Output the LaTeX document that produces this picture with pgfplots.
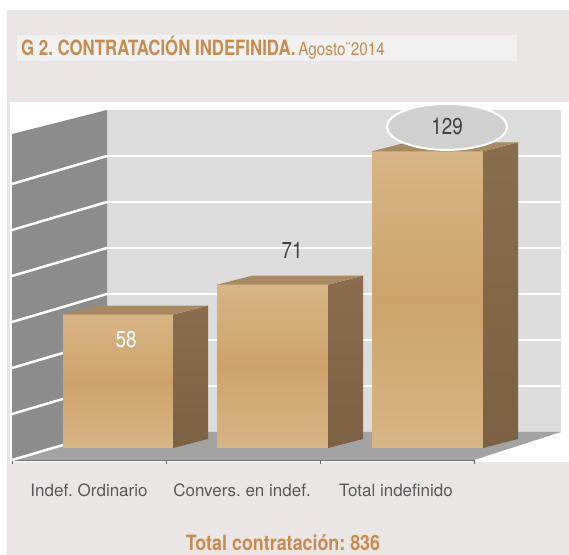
\documentclass[border=0pt]{standalone}
\usepackage{fontspec}
\setmainfont{TeX Gyre Heros}
\newfontfamily\titlefont[FakeStretch=0.8]{TeX Gyre Heros}
\newfontfamily\subfont[FakeStretch=0.85]{TeX Gyre Heros}
\newfontfamily\totalfont[FakeStretch=0.85]{TeX Gyre Heros}
\newfontfamily\numfont[FakeStretch=0.82]{TeX Gyre Heros}
\usepackage{pgfplots}
\pgfplotsset{compat=1.18}
\usetikzlibrary{shapes.geometric}
\definecolor{pinkbg}{HTML}{EAE6E5}
\definecolor{titlebar}{HTML}{F1F1F1}
\definecolor{orangetxt}{HTML}{C68C4E}
\definecolor{wallback}{HTML}{DCDCDC}
\definecolor{wallside}{HTML}{8C8C8C}
\definecolor{floorc}{HTML}{A3A3A3}
\definecolor{barfrontlight}{HTML}{D8B585}
\definecolor{barfrontdark}{HTML}{CDA36B}
\definecolor{barsidelight}{HTML}{8A6D4C}
\definecolor{barsidedark}{HTML}{7C6142}
\definecolor{bartop}{HTML}{A88A62}
\definecolor{labelgray}{HTML}{595959}
\definecolor{numgray}{HTML}{404040}
\definecolor{ellgray}{HTML}{D0D0D0}
\begin{document}
\frenchspacing
\begin{tikzpicture}
\begin{axis}[
  scale only axis, width=569pt, height=555pt,
  xmin=0, xmax=569, ymin=-46.52, ymax=194.78,
  hide axis, clip=false,
]
% backgrounds
\fill[white] (0,-46.52) rectangle (569,194.78);
\fill[pinkbg] (7,-46.52) rectangle (569,190.43);
\fill[titlebar] (17,168.26) rectangle (517,179.57);
\fill[white] (10,-6.09) rectangle (569,150.43);
% walls and floor
\fill[wallback] (107,6.96) rectangle (561,146.96);
\fill[wallside] (12,-5.22) -- (107,6.96) -- (107,146.96) -- (12,136.5) -- cycle;
\fill[floorc] (12,-5.22) -- (474,-5.22) -- (561,6.96) -- (107,6.96) -- cycle;
\draw[gray!90!black, line width=1pt] (12,-5.22) -- (474,-5.22);
\pgfplotsinvokeforeach{12,166,320,474}{\draw[gray!80!black, line width=0.8pt] (#1,-5.22) -- (#1,-6.96);}
% gridlines
\pgfplotsinvokeforeach{0,20,40,60,80,100,120}{
  \draw[white, line width=2.5pt] (12,#1-5.22) -- (107,#1+6.96);
}
\pgfplotsinvokeforeach{20,40,60,80,100,120}{
  \draw[white, line width=2.5pt] (107,#1+6.96) -- (561,#1+6.96);
}
% bar 1: 58
\addplot[draw=none, top color=barfrontlight, bottom color=barfrontlight, middle color=barfrontdark] coordinates {(63,0) (173,0) (173,58) (63,58)} -- cycle;
\addplot[draw=none, top color=barsidelight, bottom color=barsidedark] coordinates {(173,0) (208,3.91) (208,61.91) (173,58)} -- cycle;
\addplot[draw=none, fill=bartop] coordinates {(63,58) (173,58) (208,61.91) (98,61.91)} -- cycle;
% bar 2: 71
\addplot[draw=none, top color=barfrontlight, bottom color=barfrontlight, middle color=barfrontdark] coordinates {(217,0) (328,0) (328,71) (217,71)} -- cycle;
\addplot[draw=none, top color=barsidelight, bottom color=barsidedark] coordinates {(328,0) (363,3.91) (363,74.91) (328,71)} -- cycle;
\addplot[draw=none, fill=bartop] coordinates {(217,71) (328,71) (363,74.91) (252,74.91)} -- cycle;
% bar 3: 129
\addplot[draw=none, top color=barfrontlight, bottom color=barfrontlight, middle color=barfrontdark] coordinates {(372,0) (483,0) (483,129) (372,129)} -- cycle;
\addplot[draw=none, top color=barsidelight, bottom color=barsidedark] coordinates {(483,0) (518,3.91) (518,132.91) (483,129)} -- cycle;
\addplot[draw=none, fill=bartop] coordinates {(372,129) (483,129) (518,132.91) (407,132.91)} -- cycle;
% data labels
\node[text=white, font=\numfont\fontsize{23}{25}\selectfont] at (126,46.96) {58};
\node[text=numgray, font=\numfont\fontsize{23}{25}\selectfont] at (292,86.1) {71};
\node[ellipse, fill=ellgray, draw=white, line width=2pt, minimum width=120pt, minimum height=46pt, text=numgray, font=\numfont\fontsize{23}{25}\selectfont] at (447,139.6) {129};
% title
\node[anchor=base west, inner sep=0pt, text=orangetxt] at (21,170.8) {{\titlefont\fontsize{21}{23}\selectfont\bfseries G 2. CONTRATACIÓN INDEFINIDA.} {\subfont\fontsize{18}{20}\selectfont Agosto¨2014}};
% category labels
\node[anchor=base, inner sep=0pt, text=labelgray, font=\fontsize{17}{19}\selectfont] at (89,-21.3) {Indef. Ordinario};
\node[anchor=base, inner sep=0pt, text=labelgray, font=\fontsize{17}{19}\selectfont] at (242,-21.3) {Convers. en indef.};
\node[anchor=base, inner sep=0pt, text=labelgray, font=\fontsize{17}{19}\selectfont] at (396,-21.3) {Total indefinido};
% total
\node[anchor=base, inner sep=0pt, text=orangetxt, font=\totalfont\fontsize{21}{23}\selectfont\bfseries] at (283,-44.4) {Total contratación: 836};
\end{axis}
\end{tikzpicture}
\end{document}
